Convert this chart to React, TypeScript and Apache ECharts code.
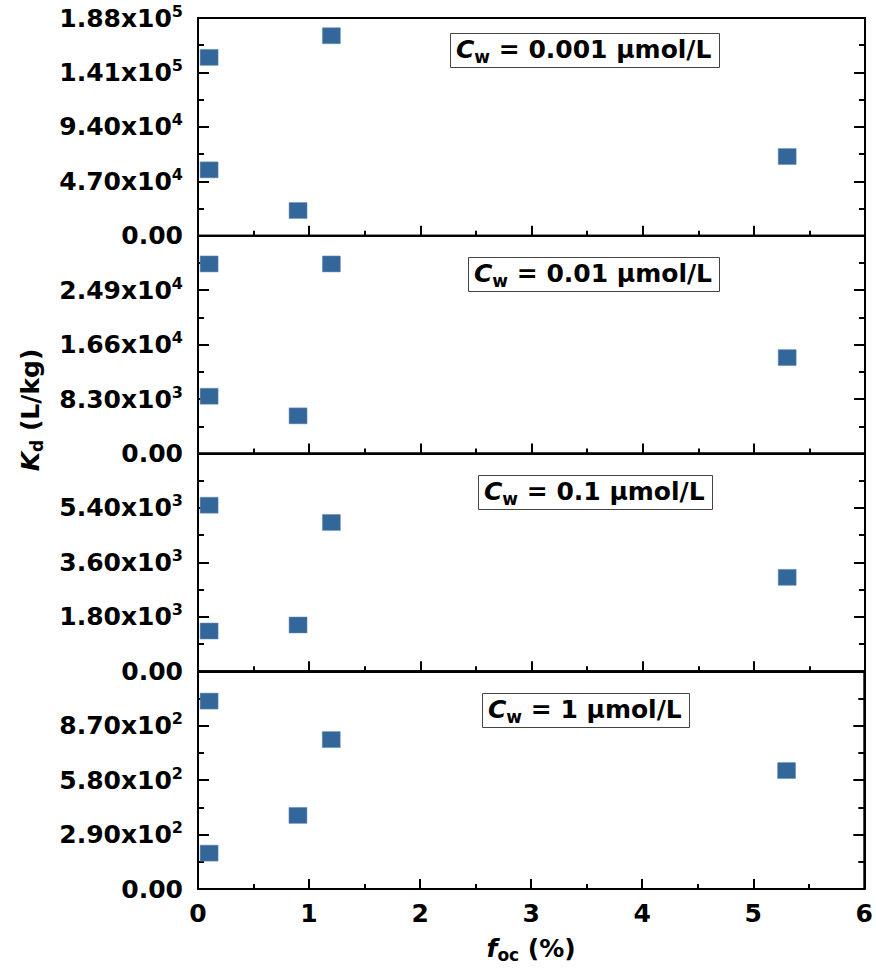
import React, { useEffect, useRef } from "react";
import * as echarts from "echarts";

// ---- data ----
const foc = [0.1, 0.1, 0.9, 1.2, 5.3];
const kd001 = [154000, 56900, 21800, 172700, 68400];
const kd01 = [28900, 8730, 5740, 28900, 14620];
const kd1 = [5490, 1330, 1530, 4920, 3105];
const kd10 = [1001, 191, 392, 796, 631];
const panelSeries = [kd001, kd01, kd1, kd10];
const panelMax = [188000, 33200, 7200, 1160];
const panelLabels = ["0.001", "0.01", "0.1", "1"];
const xTicks = [0, 1, 2, 3, 4, 5, 6];

const FONT = "DejaVu Sans";
const GRID_LEFT = 198;
const GRID_RIGHT = 11;
const GRID_TOP = 18;
const PANEL_H = 217.75;
const BLUE = "#336699";

function sciLabel(v: number): string {
  if (v === 0) return "{n|0.00}";
  const e = Math.floor(Math.log10(v) + 1e-9);
  const m = v / Math.pow(10, e);
  return "{n|" + m.toFixed(2) + "x10}{s|" + e + "}";
}

const labelRich = {
  n: { fontFamily: FONT, fontWeight: "bold", fontSize: 25, color: "#000", lineHeight: 30 },
  s: { fontFamily: FONT, fontWeight: "bold", fontSize: 16, color: "#000", lineHeight: 16, verticalAlign: "top" },
};

const boxes = [
  { left: 450, top: 30 },
  { left: 468, top: 254 },
  { left: 478, top: 472 },
  { left: 482, top: 690 },
];

export default function App() {
  const ref = useRef<HTMLDivElement>(null);
  useEffect(() => {
    if (!ref.current) return;
    const chart = echarts.init(ref.current, undefined, { renderer: "svg" });
    const grids: any[] = [];
    const xAxes: any[] = [];
    const yAxes: any[] = [];
    const series: any[] = [];
    const titles: any[] = [];
    for (let i = 0; i < 4; i++) {
      grids.push({
        left: GRID_LEFT,
        right: GRID_RIGHT,
        top: GRID_TOP + i * PANEL_H,
        height: PANEL_H,
        show: true,
        borderColor: "#000",
        borderWidth: 2,
        backgroundColor: "transparent",
      });
      const isBottom = i === 3;
      xAxes.push({
        type: "value",
        gridIndex: i,
        min: xTicks[0],
        max: xTicks[xTicks.length - 1],
        interval: 1,
        axisLine: { show: true, onZero: false, lineStyle: { color: "#000", width: 2 } },
        axisTick: { show: true, inside: true, length: 10, lineStyle: { color: "#000", width: 2 } },
        minorTick: { show: true, splitNumber: 2, length: 5, lineStyle: { color: "#000", width: 2 } },
        splitLine: { show: false },
        axisLabel: {
          show: isBottom,
          margin: 12,
          fontFamily: FONT,
          fontWeight: "bold",
          fontSize: 25,
          color: "#000",
        },
        name: isBottom ? "{i|f}{sub|oc}{n| (%)}" : "",
        nameLocation: "middle",
        nameGap: 44,
        nameTextStyle: {
          rich: {
            i: { fontFamily: FONT, fontWeight: "bold", fontStyle: "italic", fontSize: 25, color: "#000", lineHeight: 30 },
            sub: { fontFamily: FONT, fontWeight: "bold", fontSize: 17, color: "#000", lineHeight: 16, verticalAlign: "bottom" },
            n: { fontFamily: FONT, fontWeight: "bold", fontSize: 25, color: "#000", lineHeight: 30 },
          },
        },
      });
      const max = panelMax[i];
      const common = {
        type: "value",
        gridIndex: i,
        min: 0,
        max: max,
        interval: max / 4,
        splitLine: { show: false },
        axisLine: { show: true, onZero: false, lineStyle: { color: "#000", width: 2 } },
        axisTick: { show: true, inside: true, length: 11, lineStyle: { color: "#000", width: 2 } },
        minorTick: { show: true, splitNumber: 2, length: 6, lineStyle: { color: "#000", width: 2 } },
      };
      yAxes.push({
        ...common,
        position: "left",
        axisLabel: {
          show: true,
          margin: 15,
          showMaxLabel: i === 0,
          formatter: (v: number) => (i > 0 && Math.abs(v - max) < 1e-6 ? "" : sciLabel(v)),
          rich: labelRich,
        },
      });
      yAxes.push({
        ...common,
        position: "right",
        axisLabel: { show: false },
      });
      series.push({
        type: "scatter",
        xAxisIndex: i,
        yAxisIndex: i * 2,
        symbol: "rect",
        symbolSize: [18, 16],
        itemStyle: { color: BLUE, borderColor: "#6a90b8", borderWidth: 0.5, opacity: 1 },
        data: foc.map((x, k) => [x, panelSeries[i][k]]),
        clip: false,
      });
      titles.push({
        text: "{i|C}{sub|w}{n| = " + panelLabels[i] + " \u03bcmol/L}",
        left: boxes[i].left,
        top: boxes[i].top,
        padding: [3, 8, 3, 6],
        borderColor: "#444",
        borderWidth: 1,
        backgroundColor: "#fff",
        textStyle: {
          rich: {
            i: { fontFamily: FONT, fontWeight: "bold", fontStyle: "italic", fontSize: 25, color: "#000", lineHeight: 32 },
            sub: { fontFamily: FONT, fontWeight: "bold", fontSize: 17, color: "#000", lineHeight: 16, verticalAlign: "bottom" },
            n: { fontFamily: FONT, fontWeight: "bold", fontSize: 25, color: "#000", lineHeight: 32 },
          },
        },
      });
    }
    chart.setOption({
      animation: false,
      backgroundColor: "#fff",
      title: titles,
      grid: grids,
      xAxis: xAxes,
      yAxis: yAxes,
      series: series,
      graphic: [
        {
          type: "text",
          x: 30,
          y: 410,
          rotation: Math.PI / 2,
          style: {
            text: "{i|K}{sub|d}{n| (L/kg)}",
            align: "center",
            verticalAlign: "middle",
            rich: {
              i: { fontFamily: FONT, fontWeight: "bold", fontStyle: "italic", fontSize: 25, fill: "#000", lineHeight: 30 },
              sub: { fontFamily: FONT, fontWeight: "bold", fontSize: 17, fill: "#000", lineHeight: 16, verticalAlign: "bottom" },
              n: { fontFamily: FONT, fontWeight: "bold", fontSize: 25, fill: "#000", lineHeight: 30 },
            },
          },
        },
      ],
    });
    return () => chart.dispose();
  }, []);
  return <div ref={ref} style={{ width: 876, height: 970, position: "absolute", left: 0, top: 0 }} />;
}
